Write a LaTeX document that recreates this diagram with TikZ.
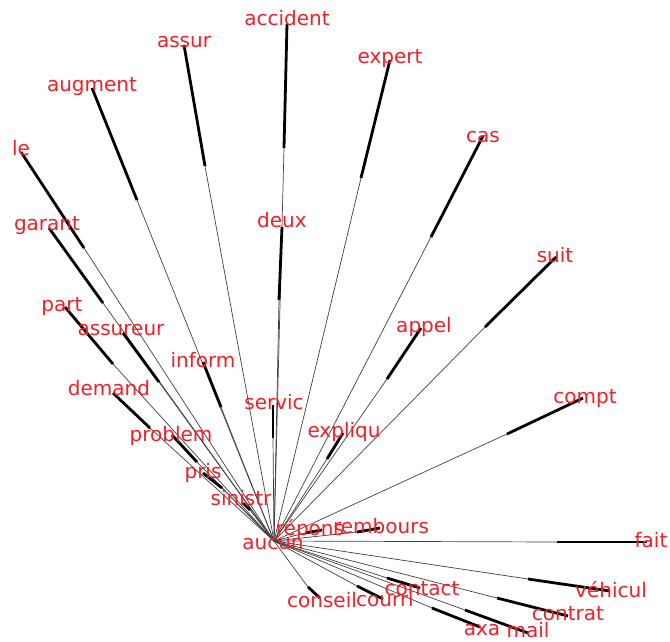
\documentclass[tikz,border=0pt]{standalone}
\usepackage{fontspec}
\setmainfont{DejaVu Sans}
\definecolor{wordred}{RGB}{238,32,40}
\begin{document}
\begin{tikzpicture}[x=1pt,y=-1pt,
  thinline/.style={draw=black!75,line width=0.7pt},
  thickline/.style={draw=black,line width=2.8pt},
  word/.style={text=wordred,font=\fontsize{20}{24}\selectfont,anchor=base,inner sep=0pt}]
\useasboundingbox (0,0) rectangle (670,641);
\coordinate (c) at (274,541);
\foreach \n/\t/\lx/\ly/\ex/\ey/\mx/\my in {
  accident/accident/287/25/287/24/284/148,
  assur/assur/184/47/184/45/205/166,
  augment/augment/92/91/92/88/137/200,
  le/le/21/155/21/152/84/248,
  garant/garant/47/230/49/228/103/303,
  expert/expert/390/63/390/60/361/178,
  cas/cas/483/142/483/136/431/237,
  deux/deux/282/227/282/227/279/300,
  suit/suit/555/262/556/257/485/327,
  appel/appel/424/332/421/328/387/379,
  compt/compt/585/403/583/398/507/434,
  expliqu/expliqu/344/437/343/433/327/459,
  servic/servic/274/409/273/405/273/438,
  part/part/62/311/65/307/113/364,
  assureur/assureur/121/335/123/333/159/382,
  inform/inform/203/367/203/362/221/407,
  demand/demand/109/395/113/393/150/428,
  problem/problem/171/441/172/435/197/462,
  pris/pris/203/478/203/473/222/488,
  sinistr/sinistr/241/505/243/503/250/510,
  repons/répons/310/535/322/530/305/533,
  rembours/rembours/381/533/380/528/357/532,
  conseil/conseil/322/607/320/598/308/587,
  courri/courri/385/606/383/599/357/586,
  contact/contact/422/595/420/588/387/578,
  fait/fait/651/547/647/542/557/542,
  vehicul/véhicul/611/597/610/591/528/579,
  contrat/contrat/568/620/568/616/497/598,
  mail/mail/528/637/528/633/465/610,
  axa/axa/482/635/480/627/432/608}{
  \coordinate (\n-end) at (\ex,\ey);
  \coordinate (\n-mid) at (\mx,\my);
  \draw[thinline] (c) -- (\n-mid);
  \draw[thickline] (\n-mid) -- (\n-end);
}
\foreach \n/\t/\lx/\ly in {
  accident/accident/287/25, assur/assur/184/47, augment/augment/92/91,
  le/le/21/155, garant/garant/47/230, expert/expert/390/63, cas/cas/483/142,
  deux/deux/282/227, suit/suit/555/262, appel/appel/424/332, compt/compt/585/403,
  expliqu/expliqu/344/437, servic/servic/274/409, part/part/62/311,
  assureur/assureur/121/335, inform/inform/203/367, demand/demand/109/395,
  problem/problem/171/441, pris/pris/203/478, sinistr/sinistr/241/505,
  repons/répons/310/535, rembours/rembours/381/533, conseil/conseil/322/607,
  courri/courri/385/606, contact/contact/422/595, fait/fait/651/547,
  vehicul/véhicul/611/597, contrat/contrat/568/620, mail/mail/528/637,
  axa/axa/482/635}{
  \node[word] (\n) at (\lx,\ly) {\t};
}
\node[word] (aucun) at (273,549) {aucun};
\end{tikzpicture}
\end{document}
